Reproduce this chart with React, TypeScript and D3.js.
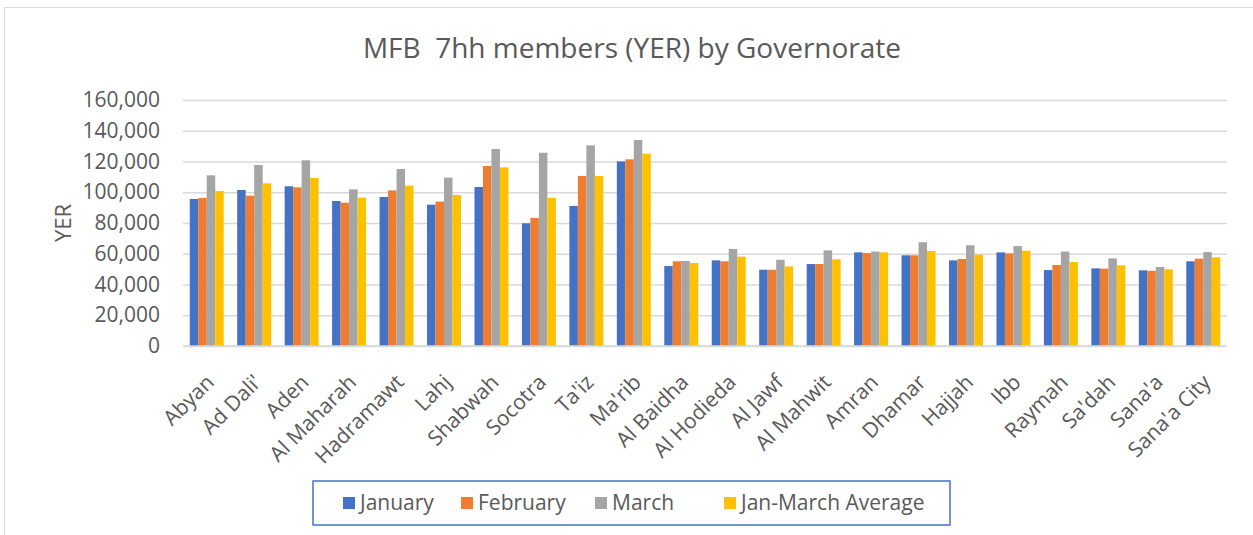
import React from "react";
import * as d3 from "d3";

// governorates along the x axis
const governorates = [
  "Abyan", "Ad Dali'", "Aden", "Al Maharah", "Hadramawt", "Lahj", "Shabwah",
  "Socotra", "Ta'iz", "Ma'rib", "Al Baidha", "Al Hodieda", "Al Jawf",
  "Al Mahwit", "Amran", "Dhamar", "Hajjah", "Ibb", "Raymah", "Sa'dah",
  "Sana'a", "Sana'a City",
];

const january = [
  95600, 101500, 103900, 94300, 96900, 91900, 103400, 79800, 91100, 120100,
  52000, 55700, 49600, 53300, 60900, 59000, 55700, 60900, 49400, 50500,
  49200, 55100,
];
const february = [
  96300, 97800, 103200, 93200, 101200, 93900, 117100, 83300, 110600, 121400,
  55100, 55100, 49600, 53300, 60500, 59000, 56600, 60300, 52700, 50300,
  48900, 56800,
];
const march = [
  111000, 117700, 120800, 101900, 115100, 109500, 128100, 125700, 130500, 134000,
  55300, 63100, 56100, 62200, 61400, 67500, 65500, 65000, 61400, 57000,
  51400, 61100,
];
const average = [
  100800, 105800, 109300, 96500, 104300, 98200, 116200, 96300, 110600, 125100,
  54000, 58100, 51800, 56400, 60900, 61800, 59400, 62000, 54600, 52500,
  49900, 57700,
];

const seriesNames = ["January", "February", "March", "Jan-March Average"];
const seriesColors = ["#4472C4", "#ED7D31", "#A5A5A5", "#FFC000"];
const yTicks = [0, 20000, 40000, 60000, 80000, 100000, 120000, 140000, 160000];

const W = 1253;
const H = 535;
const FONT = "'Open Sans', sans-serif";
const TEXT = "#595959";

const App = () => {
  const svgRef = React.useRef<SVGSVGElement>(null);

  React.useEffect(() => {
    const values = [january, february, march, average];
    const left = 183, right = 1227, top = 100, bottom = 346;

    const x = d3.scaleBand<string>()
      .domain(governorates)
      .range([left, right])
      .paddingInner(0.284)
      .paddingOuter(0.142);
    const xSub = d3.scaleBand<number>()
      .domain(d3.range(seriesNames.length))
      .range([0, x.bandwidth()]);
    const y = d3.scaleLinear().domain([0, 160000]).range([bottom, top]);

    const svg = d3.select(svgRef.current);
    svg.selectAll("*").remove();

    // chart frame
    svg.append("rect")
      .attr("x", 4.5).attr("y", 7.5)
      .attr("width", W).attr("height", H)
      .attr("fill", "#fff").attr("stroke", "#d9d9d9");

    // title
    svg.append("text")
      .attr("x", 632).attr("y", 58)
      .attr("text-anchor", "middle")
      .attr("font-family", FONT).attr("font-size", 28)
      .attr("fill", TEXT)
      .attr("xml:space", "preserve")
      .text("MFB  7hh members (YER) by Governorate");

    // y grid + labels
    const yAxis = d3.axisLeft(y)
      .tickValues(yTicks)
      .tickSize(-(right - left))
      .tickPadding(23)
      .tickFormat(d3.format(","));
    const yg = svg.append("g").attr("transform", `translate(${left},0)`).call(yAxis);
    yg.select(".domain").remove();
    yg.selectAll("line").attr("stroke", "#d9d9d9").attr("stroke-width", 1.5);
    yg.selectAll("text")
      .attr("font-family", FONT).attr("font-size", 21).attr("fill", TEXT);

    // y title
    svg.append("text")
      .attr("transform", "translate(71,223) rotate(-90)")
      .attr("text-anchor", "middle")
      .attr("font-family", FONT).attr("font-size", 22)
      .attr("fill", TEXT)
      .text("YER");

    // bars
    const groups = svg.append("g").selectAll("g")
      .data(values)
      .join("g")
      .attr("fill", (_, i) => seriesColors[i]);
    groups.each(function (vals, si) {
      d3.select(this).selectAll("rect")
        .data(vals)
        .join("rect")
        .attr("x", (_, i) => (x(governorates[i]) as number) + (xSub(si) as number))
        .attr("width", xSub.bandwidth())
        .attr("y", (d) => y(d))
        .attr("height", (d) => bottom - y(d));
    });

    // x axis line
    svg.append("line")
      .attr("x1", left).attr("x2", right)
      .attr("y1", bottom).attr("y2", bottom)
      .attr("stroke", "#d9d9d9").attr("stroke-width", 1.5);

    // x labels rotated
    svg.append("g").selectAll("text")
      .data(governorates)
      .join("text")
      .attr("transform", (d) =>
        `translate(${(x(d) as number) + x.bandwidth() / 2 - 2},373) rotate(-45)`)
      .attr("text-anchor", "end")
      .attr("dy", "0.71em")
      .attr("font-family", FONT).attr("font-size", 21)
      .attr("fill", TEXT)
      .text((d) => d);

    // legend
    svg.append("rect")
      .attr("x", 313).attr("y", 481)
      .attr("width", 637).attr("height", 44)
      .attr("fill", "#fff").attr("stroke", "#4472C4").attr("stroke-width", 1.5);
    const legendX = [343, 461, 595, 724];
    const lg = svg.append("g").selectAll("g")
      .data(seriesNames)
      .join("g")
      .attr("transform", (_, i) => `translate(${legendX[i]},503)`);
    lg.append("rect")
      .attr("x", 0).attr("y", -6)
      .attr("width", 12).attr("height", 12)
      .attr("fill", (_, i) => seriesColors[i]);
    lg.append("text")
      .attr("x", 17).attr("dy", "0.35em")
      .attr("font-family", FONT).attr("font-size", 21)
      .attr("fill", TEXT)
      .text((d) => d);
  }, []);

  return (
    <svg
      ref={svgRef}
      width={W}
      height={H}
      style={{ position: "absolute", left: 0, top: 0, background: "#fff" }}
    />
  );
};

export default App;
